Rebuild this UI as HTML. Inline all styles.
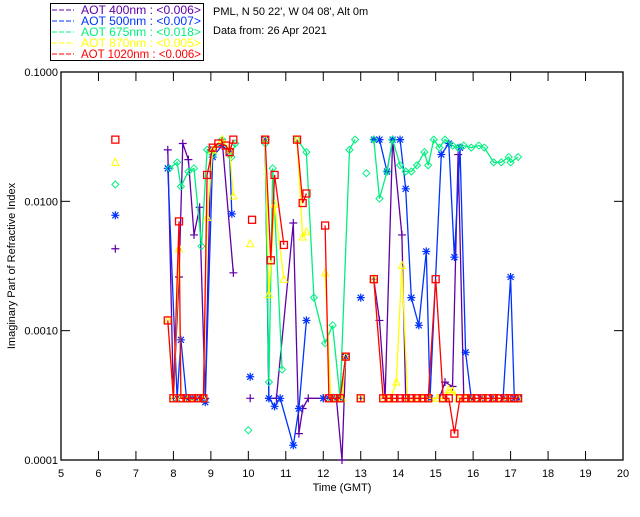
<!DOCTYPE html>
<html><head><meta charset="utf-8"><style>
body{margin:0;background:#fff}
svg{font-family:"Liberation Sans",sans-serif;font-size:11px}
</style></head><body>
<svg id="c" width="640" height="512">
<rect width="640" height="512" fill="#fff"/>
</svg>
<script>
const xTicks=[5,6,7,8,9,10,11,12,13,14,15,16,17,18,19,20];
const yTicks=[0.1,0.01,0.001,0.0001];
const yTickLabels=["0.1000","0.0100","0.0010","0.0001"];
const legendLabels=["AOT  400nm : <0.006>","AOT  500nm : <0.007>","AOT  675nm : <0.018>","AOT  870nm : <0.005>","AOT 1020nm : <0.006>"];
const t400=[6.45,null,7.85,8.0,8.15,8.25,8.4,8.55,8.7,8.85,9.0,9.3,9.6,null,10.05,null,10.45,10.55,10.75,11.2,11.35,11.45,11.6,12.0,12.2,12.35,12.5,12.6,null,13.0,null,13.35,13.5,13.65,13.85,14.1,14.2,14.4,14.6,14.8,15.1,15.25,15.45,15.6,15.75,16.0,16.3,16.6,16.9,17.2];
const v400=[0.0043,null,0.025,0.0003,0.0026,0.028,0.021,0.0055,0.009,0.0003,0.025,0.03,0.0028,null,0.0003,null,0.03,0.0003,0.0003,0.0068,0.00016,0.00025,0.0003,0.0003,0.0003,0.0003,0.0001,0.00063,null,0.0003,null,0.0025,0.0012,0.0003,0.03,0.0055,0.0003,0.0003,0.0003,0.0003,0.0003,0.0004,0.00037,0.023,0.0003,0.0003,0.0003,0.0003,0.0003,0.0003];
const t500=[6.45,null,7.85,8.1,8.2,8.35,8.5,8.65,8.85,9.05,9.3,9.5,9.56,null,10.05,null,10.45,10.55,10.7,10.85,11.2,11.35,11.55,null,12.0,12.15,12.3,12.45,12.6,null,13.0,null,13.35,13.5,13.7,13.85,14.05,14.2,14.35,14.55,14.75,14.85,15.15,15.35,15.5,15.65,15.8,15.95,16.2,16.5,16.8,17.0,17.1,17.2];
const v500=[0.0078,null,0.018,0.0003,0.00085,0.0003,0.0003,0.0003,0.00028,0.022,0.027,0.024,0.008,null,0.00044,null,0.03,0.0003,0.00026,0.0003,0.00013,0.00025,0.0012,null,0.0003,0.0003,0.0003,0.0003,0.00063,null,0.0018,null,0.03,0.03,0.017,0.03,0.03,0.0125,0.0018,0.0011,0.0041,0.0003,0.023,0.028,0.0037,0.026,0.00068,0.0003,0.0003,0.0003,0.0003,0.0026,0.0003,0.0003];
const t675=[6.45,null,7.9,8.1,8.2,8.4,8.55,8.75,8.9,9.05,9.3,9.55,9.65,null,10.0,null,10.45,10.55,10.65,10.9,null,11.3,11.55,11.75,12.05,12.25,12.45,12.7,12.85,null,13.15,null,13.35,13.5,13.7,13.85,14.05,14.2,14.35,14.5,14.7,14.8,14.95,15.1,15.25,15.45,15.6,15.75,15.95,16.15,16.3,16.55,16.75,16.95,17.0,17.2];
const v675=[0.0135,null,0.018,0.02,0.013,0.017,0.018,0.0045,0.025,0.023,0.03,0.022,0.028,null,0.00017,null,0.028,0.0004,0.018,0.0005,null,0.03,0.024,0.0018,0.0008,0.0011,0.0003,0.025,0.03,null,0.0165,null,0.03,0.0105,0.017,0.03,0.019,0.017,0.017,0.019,0.024,0.019,0.03,0.026,0.03,0.027,0.026,0.027,0.026,0.027,0.026,0.02,0.02,0.022,0.02,0.022];
const t870=[6.45,null,7.85,8.0,8.15,8.2,8.4,8.6,8.8,8.9,9.05,9.3,9.5,9.6,null,10.05,null,10.45,10.55,10.7,10.95,null,11.3,11.45,11.55,null,12.05,12.2,12.35,12.5,12.6,null,13.0,null,13.35,13.6,13.8,13.95,14.1,14.25,14.45,14.65,14.85,15.05,15.25,15.35,15.45,15.6,15.8,16.0,16.3,16.6,16.9,17.2];
const v870=[0.02,null,0.0012,0.0003,0.0043,0.0003,0.0003,0.0003,0.0003,0.0075,0.025,0.03,0.025,0.011,null,0.0047,null,0.03,0.0019,0.0095,0.0025,null,0.03,0.0053,0.0058,null,0.0028,0.0003,0.0003,0.0003,0.00063,null,0.0003,null,0.0025,0.0003,0.0003,0.0004,0.0032,0.0003,0.0003,0.0003,0.0003,0.0003,0.0003,0.00035,0.00034,0.0003,0.0003,0.0003,0.0003,0.0003,0.0003,0.0003];
const t1020=[6.45,null,7.85,8.0,8.15,8.2,8.35,8.5,8.65,8.8,8.9,9.05,9.2,9.4,9.5,9.6,null,10.1,null,10.45,10.6,10.7,10.95,null,11.3,11.45,11.55,null,12.05,12.15,12.3,12.45,12.6,null,13.0,null,13.35,13.6,13.75,13.9,14.05,14.2,14.35,14.5,14.65,14.8,15.0,15.2,15.35,15.5,15.65,15.8,15.95,16.1,16.25,16.4,16.55,16.7,16.85,17.0,17.1,17.2];
const v1020=[0.03,null,0.0012,0.0003,0.007,0.0003,0.0003,0.0003,0.0003,0.0003,0.016,0.026,0.028,0.027,0.024,0.03,null,0.0072,null,0.03,0.0035,0.016,0.0046,null,0.03,0.0097,0.0115,null,0.0065,0.0003,0.0003,0.0003,0.00063,null,0.0003,null,0.0025,0.0003,0.0003,0.0003,0.0003,0.0003,0.0003,0.0003,0.0003,0.0003,0.0025,0.0003,0.0003,0.00016,0.0003,0.0003,0.0003,0.0003,0.0003,0.0003,0.0003,0.0003,0.0003,0.0003,0.0003,0.0003];

const L=61,R=623,T=72,B=460;
const xs=t=>L+(t-5)*(R-L)/15;
const ys=v=>T+(-1-Math.log10(v))*(B-T)/3;
const svg=document.getElementById('c');
const NS='http://www.w3.org/2000/svg';
function mk(tag,attrs,parent){const e=document.createElementNS(NS,tag);for(const k in attrs)e.setAttribute(k,attrs[k]);(parent||svg).appendChild(e);return e;}

const box=mk('rect',{x:L,y:T,width:R-L,height:B-T,fill:'none',stroke:'#000','stroke-width':1.3});


xTicks.forEach(t=>{
  const x=xs(t);
  const a=mk('line',{x1:x,x2:x,y1:B,y2:B-9,stroke:'#000'});
  
  
  mk('line',{x1:x,x2:x,y1:T,y2:T+9,stroke:'#000'});
  const tx=mk('text',{x:x,y:B+17,'text-anchor':'middle',fill:'#000'});tx.textContent=t;
  
  
});
yTicks.forEach((v,i)=>{
  const y=ys(v);
  const a=mk('line',{x1:L,x2:L+9,y1:y,y2:y,stroke:'#000'});
  
  
  mk('line',{x1:R,x2:R-9,y1:y,y2:y,stroke:'#000'});
  const tx=mk('text',{x:L-3,y:y+4,'text-anchor':'end',fill:'#000'});tx.textContent=yTickLabels[i];
  
  
});
const xt=mk('text',{x:(L+R)/2,y:491,'text-anchor':'middle',fill:'#000'});xt.textContent='Time (GMT)';


const yt=mk('text',{x:15,y:266,'text-anchor':'middle',fill:'#000',transform:'rotate(-90 15 266)'});yt.textContent='Imaginary Part of Refractive Index';



const series=[
 {t:t400,v:v400,c:'#6000a8',m:'plus',n:'aot-400'},
 {t:t500,v:v500,c:'#0033ff',m:'star',n:'aot-500'},
 {t:t675,v:v675,c:'#00f080',m:'diamond',n:'aot-675'},
 {t:t870,v:v870,c:'#ffff00',m:'tri',n:'aot-870'},
 {t:t1020,v:v1020,c:'#ff0000',m:'square',n:'aot-1020'}];
series.forEach(s=>{
  const g=mk('g',{});
  
  
  let d='',pen=false;
  s.t.forEach((t,i)=>{
    if(t===null||s.v[i]===null){pen=false;return;}
    d+=(pen?'L':'M')+xs(t).toFixed(1)+' '+ys(s.v[i]).toFixed(1)+' ';pen=true;
  });
  const p=mk('path',{d:d,fill:'none',stroke:s.c,'stroke-width':1.3},g);
  
  
  s.t.forEach((t,i)=>{
    if(t===null||s.v[i]===null)return;
    const x=xs(t),y=ys(s.v[i]);let e;
    if(s.m==='plus')e=mk('path',{d:`M${x-4} ${y}H${x+4}M${x} ${y-4}V${y+4}`,stroke:s.c,'stroke-width':1.2,fill:'none'},g);
    else if(s.m==='star')e=mk('path',{d:`M${x-4} ${y}H${x+4}M${x} ${y-4}V${y+4}M${x-3} ${y-3}L${x+3} ${y+3}M${x-3} ${y+3}L${x+3} ${y-3}`,stroke:s.c,'stroke-width':1.2,fill:'none'},g);
    else if(s.m==='diamond')e=mk('path',{d:`M${x} ${y-3.5}L${x+3.5} ${y}L${x} ${y+3.5}L${x-3.5} ${y}Z`,stroke:s.c,'stroke-width':1,fill:'none'},g);
    else if(s.m==='tri')e=mk('path',{d:`M${x} ${y-4}L${x+3.5} ${y+3}L${x-3.5} ${y+3}Z`,stroke:s.c,'stroke-width':1,fill:'none'},g);
    else e=mk('rect',{x:x-3.5,y:y-3.5,width:7,height:7,stroke:s.c,'stroke-width':1.3,fill:'none'},g);
    
    
  });
});

const lg=mk('g',{});


mk('rect',{x:50.5,y:3.5,width:153,height:57,fill:'#fff',stroke:'#000','stroke-width':1},lg);
legendLabels.forEach((lab,i)=>{
  const y=10+i*11;
  const ln=mk('line',{x1:52,x2:74,y1:y,y2:y,stroke:series[i].c,'stroke-dasharray':'5,2'},lg);
  
  
  const tx=mk('text',{x:81,y:y+4,fill:series[i].c,'xml:space':'preserve','font-size':'11.5px',textLength:120,lengthAdjust:'spacingAndGlyphs'},lg);
  tx.textContent=lab;
  
  
});
const h1=mk('text',{x:213,y:15,fill:'#000'});h1.textContent="PML, N 50 22', W 04 08', Alt 0m";


const h2=mk('text',{x:213,y:34,fill:'#000'});h2.textContent="Data from: 26 Apr 2021";


</script>
</body></html>
